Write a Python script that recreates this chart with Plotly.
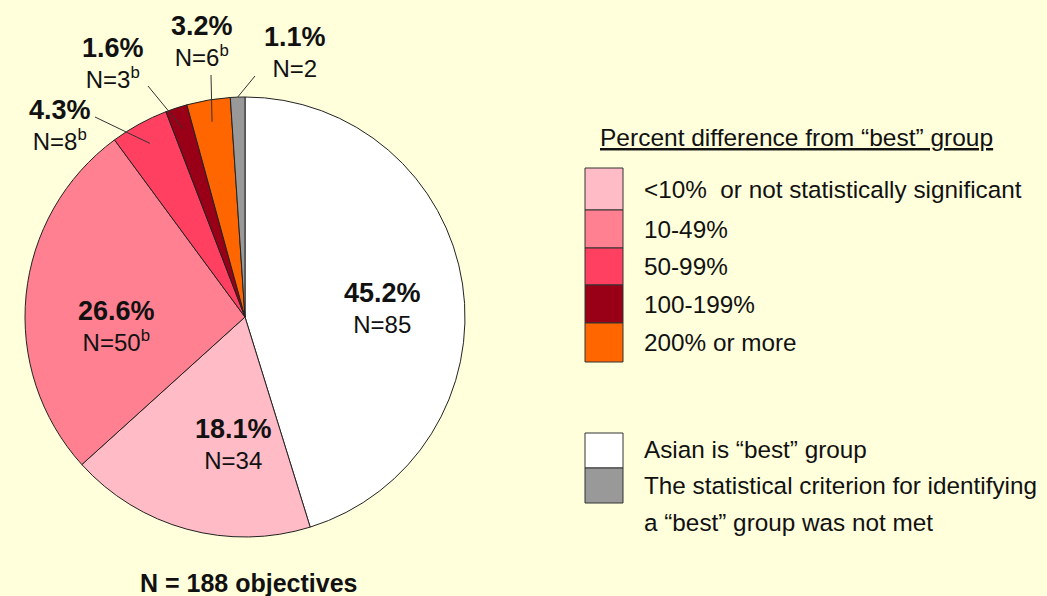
import math
import plotly.graph_objects as go

# ---------------- data ----------------
categories = ["Asian is \u201cbest\u201d group", "<10%  or not statistically significant", "10-49%",
              "50-99%", "100-199%", "200% or more",
              "The statistical criterion for identifying a \u201cbest\u201d group was not met"]
counts = [85, 34, 50, 8, 3, 6, 2]
percent_labels = ["45.2%", "18.1%", "26.6%", "4.3%", "1.6%", "3.2%", "1.1%"]
n_labels = ["N=85", "N=34", "N=50<sup>b</sup>", "N=8<sup>b</sup>", "N=3<sup>b</sup>",
            "N=6<sup>b</sup>", "N=2"]
legend_upper = ["<10%  or not statistically significant", "10-49%", "50-99%", "100-199%", "200% or more"]
legend_lower = ["Asian is \u201cbest\u201d group", "The statistical criterion for identifying",
                "a \u201cbest\u201d group was not met"]
total_label = "N = 188 objectives"
legend_title = "Percent difference from \u201cbest\u201d group"

# ---------------- style ----------------
W, H = 1047, 596
BG = "#FFFFDC"
FONT = "Liberation Sans, Arial, sans-serif"
slice_colors = ["#FFFFFF", "#FFBBC6", "#FF8090", "#FF4060", "#990018", "#FF6600", "#999999"]
upper_colors = slice_colors[1:6]
lower_colors = [slice_colors[0], slice_colors[6]]

CX, CY, R = 245, 317, 220  # pie centre / radius in pixels


def px(x):
    return x / W


def py(y):
    return 1 - y / H


fig = go.Figure()
fig.add_trace(go.Pie(
    labels=categories, values=counts, sort=False, direction="clockwise", rotation=0,
    marker=dict(colors=slice_colors, line=dict(color="#222222", width=1)),
    textinfo="none", hoverinfo="label+value+percent", showlegend=False,
    domain=dict(x=[px(CX - R), px(CX + R)], y=[py(CY + R), py(CY - R)]),
))

annotations = []
shapes = []

# label block centres (pixels)
label_pos = [
    (382, 308),
    (233, 444),
    (116, 326),
    (60, 125),
    (113, 63),
    (202, 41),
    (295, 52),
]
# leader line tails (pixels) for small outside slices, None for inside labels
leader_tails = [None, None, None, (95, 117), (148, 86), (211, 75), (255, 76)]
leader_r = [None, None, None, 0.9, 0.9, 0.9, 1.0]

total = sum(counts)
cum = 0
for i, c in enumerate(counts):
    mid = (cum + c / 2) / total * 2 * math.pi
    cum += c
    lx, ly = label_pos[i]
    txt = ("<b><span style='font-size:27px'>" + percent_labels[i] + "</span></b><br>"
           + n_labels[i])
    annotations.append(dict(x=px(lx), y=py(ly), xref="paper", yref="paper", showarrow=False,
                            text=txt, xanchor="center", yanchor="middle", align="center",
                            borderpad=0,
                            font=dict(family=FONT, size=24, color="#111111")))
    if leader_tails[i] is not None:
        rr = leader_r[i] * R
        tipx = CX + rr * math.sin(mid)
        tipy = CY - rr * math.cos(mid)
        tx, ty = leader_tails[i]
        shapes.append(dict(type="line", xref="paper", yref="paper",
                           x0=px(tx), y0=py(ty), x1=px(tipx), y1=py(tipy),
                           line=dict(color="#333333", width=1)))

# ---------------- custom legend ----------------
annotations.append(dict(x=px(598), y=py(137), xref="paper", yref="paper", showarrow=False,
                        text="<u>" + legend_title + "</u>", xanchor="left", yanchor="middle",
                        font=dict(family=FONT, size=24.5, color="#111111")))
upper_bounds = [168, 210, 248, 285, 323, 362]
for i, lab in enumerate(legend_upper):
    y0, y1 = upper_bounds[i], upper_bounds[i + 1]
    shapes.append(dict(type="rect", xref="paper", yref="paper", x0=px(585), x1=px(623),
                       y0=py(y1), y1=py(y0), fillcolor=upper_colors[i],
                       line=dict(color="#333333", width=1)))
    annotations.append(dict(x=px(642), y=py((y0 + y1) / 2), xref="paper", yref="paper",
                            showarrow=False, text=lab, xanchor="left", yanchor="middle",
                            font=dict(family=FONT, size=24.3, color="#111111")))

lower_bounds = [433, 468, 503]
for i in range(2):
    y0, y1 = lower_bounds[i], lower_bounds[i + 1]
    shapes.append(dict(type="rect", xref="paper", yref="paper", x0=px(585), x1=px(623),
                       y0=py(y1), y1=py(y0), fillcolor=lower_colors[i],
                       line=dict(color="#333333", width=1)))
lower_text_y = [449, 485, 522]
for i, lab in enumerate(legend_lower):
    annotations.append(dict(x=px(642), y=py(lower_text_y[i]), xref="paper", yref="paper",
                            showarrow=False, text=lab, xanchor="left", yanchor="middle",
                            font=dict(family=FONT, size=24.3, color="#111111")))

annotations.append(dict(x=px(248), y=py(583), xref="paper", yref="paper", showarrow=False,
                        text="<b>" + total_label + "</b>", xanchor="center", yanchor="middle",
                        font=dict(family=FONT, size=25, color="#111111")))

fig.update_layout(
    width=W, height=H, margin=dict(l=0, r=0, t=0, b=0),
    paper_bgcolor=BG, plot_bgcolor=BG,
    annotations=annotations, shapes=shapes, showlegend=False,
)

fig.write_html("out.html")
